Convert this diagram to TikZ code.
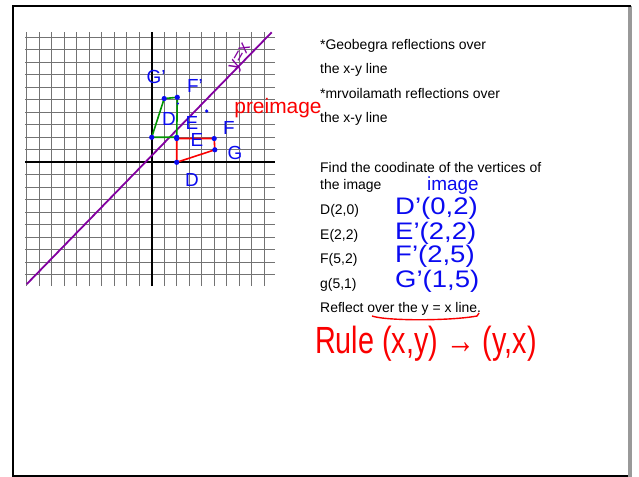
\documentclass[tikz,border=0pt]{standalone}
\usepackage{fontspec}
\setmainfont{Liberation Sans}
\definecolor{inkblue}{RGB}{10,10,240}
\definecolor{inkred}{RGB}{250,0,0}
\definecolor{inkgreen}{RGB}{0,150,0}
\definecolor{inkpurple}{RGB}{130,0,160}

\begin{document}
\begin{tikzpicture}[x=1bp, y=-1bp,
    gridline/.style={black!55, line width=1.2bp},
    axisline/.style={black, line width=1.8bp},
    txt/.style={anchor=west, inner sep=0pt, font=\fontsize{14}{16}\selectfont},
    ink/.style={inner sep=0pt, font=\fontsize{#1}{#1}\selectfont}]
    \useasboundingbox (0,0) rectangle (639,477);
    % page frame
    \fill[gray!80] (628,6) rectangle (632,477);
    \draw[line width=2bp] (13,477) -- (13,6) -- (631,6);
    \draw[line width=1.5bp] (13,476) -- (628,476);

    % coordinate grid
    \begin{scope}[shift={(151.7,162.3)}, x=12.5bp, y=12.5bp]
        \foreach \i in {-10,...,9}
            \draw[gridline] (\i,-9.9) -- (\i,10.4);
        \foreach \j in {-9,...,10}
            \draw[gridline] (-10.1,\j) -- (9.85,\j);
        \draw[axisline] (0,-9.9) -- (0,10.4);
        \draw[axisline] (-10.1,0) -- (9.85,0);
        % line y = x
        \draw[inkpurple, line width=1.8bp] (-10,-9.75) -- (9.6,10.4);
        % preimage and image vertices
        \coordinate (D) at (2,0);
        \coordinate (E) at (2,1.9);
        \coordinate (F) at (5,1.9);
        \coordinate (G) at (5.05,1);
        \coordinate (D') at (0,2);
        \coordinate (E') at (2,2);
        \coordinate (F') at (2.05,5.2);
        \coordinate (G') at (1,5.1);
        \draw[inkred, line width=1.6bp] (D) -- (E) -- (F) -- (G) -- cycle;
        \draw[inkgreen, line width=1.6bp] (D') -- (G') -- (F') -- (E') -- cycle;
        \foreach \v in {D,E,F,G,D',E',F',G'}
            \fill[inkblue] (\v) circle (2.6bp);
        \fill[inkblue] (4.4,4.1) circle (1.8bp);
        \fill[inkblue] (2.1,4.7) circle (1.2bp);
    \end{scope}

    % handwritten labels on the graph
    \node[ink=19, text=inkblue] (lblG') at (156,77) {G'};
    \node[ink=19, text=inkblue] (lblF') at (195,86) {F'};
    \node[ink=19, text=inkblue] (lblD') at (169,119) {D};
    \node[ink=19, text=inkblue] (lblE') at (192,123) {E};
    \node[ink=19, text=inkblue] (lblE) at (197,140) {E};
    \node[ink=19, text=inkblue] (lblF) at (229,128) {F};
    \node[ink=19, text=inkblue] (lblG) at (235,153) {G};
    \node[ink=19, text=inkblue] (lblD) at (192,180) {D};
    \node[ink=21, text=inkred] (pre) at (278,108) {preimage};
    \node[ink=18, text=inkpurple, rotate=60] (yx) at (241,58) {y=x};

    % typed text
    \node[txt] (geo) at (320,46) {*Geobegra reflections over};
    \node[txt] (geo2) at (320,70) {the x-y line};
    \node[txt] (mrv) at (320,94) {*mrvoilamath reflections over};
    \node[txt] (mrv2) at (320,119) {the x-y line};
    \node[txt] (find) at (320,168) {Find the coodinate of the vertices of};
    \node[txt] (find2) at (320,186) {the image};
    \node[txt] (ptD) at (320,211) {D(2,0)};
    \node[txt] (ptE) at (320,236) {E(2,2)};
    \node[txt] (ptF) at (320,260) {F(5,2)};
    \node[txt] (ptG) at (320,285) {g(5,1)};
    \node[txt] (refl) at (320,309) {Reflect over the y = x line.};

    % handwritten answers
    \node[ink=19, text=inkblue] (img) at (453,186) {image};
    \node[ink=24, text=inkblue, anchor=west, xscale=1.15] (ansD) at (395,208) {D'(0,2)};
    \node[ink=24, text=inkblue, anchor=west, xscale=1.15] (ansE) at (395,233) {E'(2,2)};
    \node[ink=24, text=inkblue, anchor=west, xscale=1.15] (ansF) at (395,256) {F'(2,5)};
    \node[ink=24, text=inkblue, anchor=west, xscale=1.15] (ansG) at (395,281) {G'(1,5)};
    \draw[inkred, line width=1.4bp] (372,316) .. controls (386,321) and (450,321) .. (477,316) -- (479,313);
    \node[ink=38, text=inkred, anchor=west, xscale=0.76] (rule) at (315,344) {Rule (x,y) → (y,x)};
\end{tikzpicture}
\end{document}
